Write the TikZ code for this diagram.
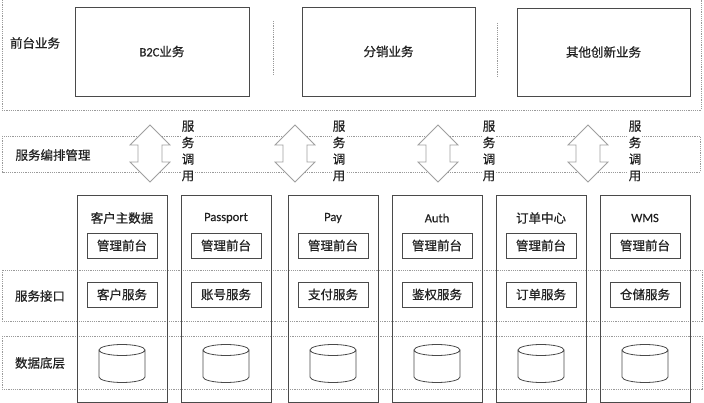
\documentclass[tikz,border=0pt]{standalone}
\usepackage{fontspec}
\setmainfont{Noto Sans CJK SC}[FakeBold=0.6]
\newfontfamily\lat{Carlito}[FakeBold=0.6]
\definecolor{linegray}{HTML}{4A4A4A}
\definecolor{dotgray}{HTML}{9A9A9A}
\definecolor{textgray}{HTML}{222222}
\begin{document}
\begin{tikzpicture}[x=1pt,y=-1pt,
    every node/.style={text=textgray, font=\fontsize{12.5}{14}\selectfont},
    bigbox/.style={draw=linegray, line width=0.9pt, inner sep=0pt},
    smallbox/.style={draw=linegray, line width=0.8pt, minimum width=70pt, minimum height=25pt, inner sep=0pt},
    column/.style={draw=linegray, line width=0.9pt, minimum width=90pt, minimum height=207pt, inner sep=0pt},
    dotline/.style={draw=dotgray, line width=0.6pt, dash pattern=on 1.2pt off 1pt},
    dbase/.style={draw=linegray, line width=0.8pt},
    callarrow/.style={draw=gray!75, fill=white, line width=0.8pt, line join=miter},
    calltext/.style={fill=white, align=center, inner sep=1pt, font=\fontsize{12.5}{16.5}\selectfont}]
    \useasboundingbox (0,0) rectangle (704,403);
    % Bands
    \draw [dotline] (2,0) -- (2,110) -- (701,110) -- (701,0);
    \draw [dotline] (2,136) rectangle (700,172);
    \draw [dotline] (2,270) rectangle (702,321);
    \draw [dotline] (2,336) rectangle (702,389);
    \node (front) at (35,43) {前台业务};
    \node (orch) at (53,155) {服务编排管理};
    \node (iface) at (40,296) {服务接口};
    \node (data) at (40,363) {数据底层};
    % Front business
    \node [bigbox, minimum width=174pt, minimum height=89pt] (b2c) at (162,51.5) {{\lat B2C}业务};
    \node [bigbox, minimum width=173pt, minimum height=89pt] (dist) at (388.5,51.5) {分销业务};
    \node [bigbox, minimum width=173pt, minimum height=88pt] (other) at (603.5,52) {其他创新业务};
    \draw [dotline] (273,21) -- (273,76);
    \draw [dotline] (497,23) -- (497,78);
    % Service calls
    \coordinate (arr1) at (150,125);
    \coordinate (arr2) at (295,125);
    \coordinate (arr3) at (438,125);
    \coordinate (arr4) at (588,125);
    \draw [callarrow] (arr1) -- ++(20,20) -- ++(-8,0) -- ++(0,17) -- ++(8,0) -- ++(-20,20) -- ++(-20,-20) -- ++(8,0) -- ++(0,-17) -- ++(-8,0) -- cycle;
    \draw [callarrow] (arr2) -- ++(20,20) -- ++(-8,0) -- ++(0,17) -- ++(8,0) -- ++(-20,20) -- ++(-20,-20) -- ++(8,0) -- ++(0,-17) -- ++(-8,0) -- cycle;
    \draw [callarrow] (arr3) -- ++(20,20) -- ++(-8,0) -- ++(0,17) -- ++(8,0) -- ++(-20,20) -- ++(-20,-20) -- ++(8,0) -- ++(0,-17) -- ++(-8,0) -- cycle;
    \draw [callarrow] (arr4) -- ++(20,20) -- ++(-8,0) -- ++(0,17) -- ++(8,0) -- ++(-20,20) -- ++(-20,-20) -- ++(8,0) -- ++(0,-17) -- ++(-8,0) -- cycle;
    \node [calltext] (call1) at (188,151) {服\\务\\调\\用};
    \node [calltext] (call2) at (339,151) {服\\务\\调\\用};
    \node [calltext] (call3) at (489,151) {服\\务\\调\\用};
    \node [calltext] (call4) at (635,151) {服\\务\\调\\用};
    % Columns
    \node [column] (col1) at (122,298.5) {};
    \node [column] (col2) at (226,298.5) {};
    \node [column] (col3) at (333,298.5) {};
    \node [column] (col4) at (437,298.5) {};
    \node [column] (col5) at (541,298.5) {};
    \node [column] (col6) at (645,298.5) {};
    \node (t1) at (122,218) {客户主数据};
    \node (t2) at (226,218) {\lat Passport};
    \node (t3) at (333,218) {\lat Pay};
    \node (t4) at (437,218) {\lat Auth};
    \node (t5) at (541,218) {订单中心};
    \node (t6) at (645,218) {\lat WMS};
    \node [smallbox] (m1) at (122,245.5) {管理前台};
    \node [smallbox] (m2) at (226,245.5) {管理前台};
    \node [smallbox] (m3) at (333,245.5) {管理前台};
    \node [smallbox] (m4) at (437,245.5) {管理前台};
    \node [smallbox] (m5) at (541,245.5) {管理前台};
    \node [smallbox] (m6) at (645,245.5) {管理前台};
    \node [smallbox] (s1) at (122,294.5) {客户服务};
    \node [smallbox] (s2) at (226,294.5) {账号服务};
    \node [smallbox] (s3) at (333,294.5) {支付服务};
    \node [smallbox] (s4) at (437,294.5) {鉴权服务};
    \node [smallbox] (s5) at (541,294.5) {订单服务};
    \node [smallbox] (s6) at (645,294.5) {仓储服务};
    % Databases
    \coordinate (db1) at (122,350);
    \coordinate (db2) at (226,350);
    \coordinate (db3) at (333,350);
    \coordinate (db4) at (437,350);
    \coordinate (db5) at (541,350);
    \coordinate (db6) at (645,350);
    \draw [dbase] (db1) ellipse [x radius=23, y radius=5.5] (db1) ++(-23,0) -- ++(0,27) arc [start angle=180, end angle=0, x radius=23, y radius=5.5] -- ++(0,-27);
    \draw [dbase] (db2) ellipse [x radius=23, y radius=5.5] (db2) ++(-23,0) -- ++(0,27) arc [start angle=180, end angle=0, x radius=23, y radius=5.5] -- ++(0,-27);
    \draw [dbase] (db3) ellipse [x radius=23, y radius=5.5] (db3) ++(-23,0) -- ++(0,27) arc [start angle=180, end angle=0, x radius=23, y radius=5.5] -- ++(0,-27);
    \draw [dbase] (db4) ellipse [x radius=23, y radius=5.5] (db4) ++(-23,0) -- ++(0,27) arc [start angle=180, end angle=0, x radius=23, y radius=5.5] -- ++(0,-27);
    \draw [dbase] (db5) ellipse [x radius=23, y radius=5.5] (db5) ++(-23,0) -- ++(0,27) arc [start angle=180, end angle=0, x radius=23, y radius=5.5] -- ++(0,-27);
    \draw [dbase] (db6) ellipse [x radius=23, y radius=5.5] (db6) ++(-23,0) -- ++(0,27) arc [start angle=180, end angle=0, x radius=23, y radius=5.5] -- ++(0,-27);
\end{tikzpicture}
\end{document}
